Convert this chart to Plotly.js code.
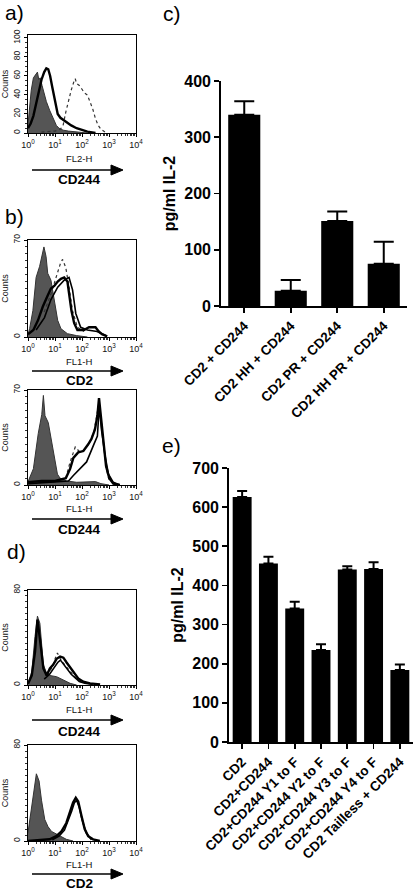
<!DOCTYPE html>
<html><head><meta charset="utf-8">
<script src="https://cdn.plot.ly/plotly-3.0.1.min.js"></script>
<style>html,body{margin:0;padding:0;background:#fff}#chart{width:416px;height:891px}</style>
</head><body><div id="chart"></div>
<script>
// ---------- DATA (x values in decades: 0 = 10^0 ... 4 = 10^4) ----------
// panel a (CD244, FL2-H)
const aGrayX  = [0, 0.05, 0.12, 0.2, 0.28, 0.35, 0.4, 0.45, 0.52, 0.6, 0.68, 0.8, 0.93, 1.05, 1.15, 1.3, 1.5, 1.8, 2.2];
const aGrayY  = [9, 25, 45, 58, 62, 64, 56, 58, 50, 42, 33, 24, 15, 8, 5, 3, 2, 1, 0];
const aBlackX = [0, 0.1, 0.2, 0.3, 0.4, 0.5, 0.6, 0.68, 0.75, 0.82, 0.9, 1.0, 1.1, 1.2, 1.3, 1.45, 1.6, 1.8, 2.0, 2.2, 2.5];
const aBlackY = [5, 10, 18, 30, 45, 56, 64, 68, 67, 60, 48, 32, 20, 16, 14, 11, 8, 5, 3, 1.5, 0];
const aDotX   = [0.5, 0.8, 1.0, 1.2, 1.3, 1.4, 1.5, 1.6, 1.7, 1.75, 1.8, 1.9, 2.0, 2.1, 2.2, 2.3, 2.4, 2.5, 2.6, 2.7, 2.8, 2.9];
const aDotY   = [1, 2, 2, 4, 8, 22, 35, 45, 54, 57, 52, 50, 46, 42, 40, 33, 25, 15, 8, 4, 2, 0];
// panel b top (CD2, FL1-H)
const bGrayX   = [0, 0.06, 0.18, 0.3, 0.43, 0.55, 0.59, 0.67, 0.73, 0.85, 0.98, 1.1, 1.22, 1.46, 1.8, 2.2];
const bGrayY   = [2, 6, 19, 43, 51, 60, 65, 58, 46, 41, 27, 12, 6, 2.4, 1, 0];
const bBlack1X = [0, 0.2, 0.37, 0.55, 0.73, 0.85, 0.98, 1.1, 1.22, 1.34, 1.46, 1.52, 1.61, 1.71, 1.83, 2.07, 2.26, 2.5, 2.62, 2.74, 2.93];
const bBlack1Y = [2, 5, 12, 22, 30, 35, 37, 40, 42, 43, 40, 31, 19, 10, 5, 5, 7, 7, 4, 2, 0.5];
const bBlack2X = [0.3, 0.61, 0.85, 1.1, 1.34, 1.52, 1.65, 1.77, 1.95, 2.2, 2.56, 2.93];
const bBlack2Y = [5, 14, 27, 36, 41, 43, 34, 17, 7, 5, 4, 0.5];
const bDotX    = [0.6, 0.85, 1.04, 1.2, 1.28, 1.4, 1.52, 1.65, 1.83, 2.07];
const bDotY    = [18, 31, 43, 53, 56, 50, 36, 19, 7, 4];
// panel b bottom (CD244, FL1-H)
const b2GrayX   = [0, 0.2, 0.38, 0.51, 0.57, 0.63, 0.75, 0.88, 1.0, 1.09, 1.19, 1.43, 1.8, 2.2, 2.5, 2.7, 3.0];
const b2GrayY   = [2.4, 12, 38, 52, 66, 51, 46, 31, 17, 8, 5, 3, 2, 2, 2.5, 1, 0];
const b2Black1X = [0, 0.5, 1.0, 1.4, 1.56, 1.68, 1.86, 2.05, 2.23, 2.35, 2.48, 2.57, 2.63, 2.69, 2.79, 2.89, 3.01, 3.16, 3.4];
const b2Black1Y = [2, 3, 3, 5, 12, 20, 24, 25, 30, 34, 41, 51, 64, 53, 34, 14, 5, 1, 0];
const b2Black2X = [0, 1.0, 1.5, 1.68, 1.93, 2.17, 2.42, 2.57, 2.64, 2.72, 2.85, 2.98, 3.16, 3.4];
const b2Black2Y = [1, 2, 3, 7, 12, 17, 29, 36, 58, 41, 22, 8, 2, 0];
const b2DotX    = [1.4, 1.56, 1.75, 1.93, 2.1, 2.3, 2.45, 2.55, 2.62, 2.7, 2.8, 2.9, 3.0];
const b2DotY    = [5, 17, 28, 24, 26, 32, 40, 52, 60, 50, 30, 12, 4];
// panel d top (CD244, FL1-H)
const dGrayX   = [0, 0.14, 0.26, 0.35, 0.38, 0.44, 0.51, 0.57, 0.69, 0.81, 1.06, 1.31, 1.56, 1.8];
const dGrayY   = [1.4, 11, 41, 58, 56, 52, 33, 17, 10, 8, 7, 4, 1.4, 0];
const dBlack1X = [0, 0.14, 0.26, 0.35, 0.44, 0.57, 0.69, 0.81, 0.93, 1.06, 1.19, 1.31, 1.43, 1.56, 1.68, 1.86, 2.05, 2.3, 2.67];
const dBlack1Y = [1, 8, 28, 55, 39, 14, 8, 14, 17, 22, 24, 23, 19, 15, 11, 5.5, 2.8, 1.4, 0.5];
const dBlack2X = [0.6, 0.8, 0.95, 1.1, 1.2, 1.3, 1.45, 1.6, 1.75, 1.9, 2.1, 2.4];
const dBlack2Y = [5, 9, 14, 19, 21, 18, 14, 9, 6, 3, 1.5, 0.5];
const dDotX    = [0.7, 0.9, 1.0, 1.09, 1.15, 1.25, 1.4, 1.6, 1.8, 2.0];
const dDotY    = [8, 15, 22, 27, 24, 20, 16, 10, 5, 2];
// panel d bottom (CD2, FL1-H)
const d2GrayX   = [0, 0.12, 0.25, 0.31, 0.41, 0.5, 0.62, 0.74, 0.87, 1.05, 1.24, 1.42, 1.67];
const d2GrayY   = [7, 26, 45, 56, 50, 34, 18, 12, 8, 6, 4, 1.4, 0];
const d2Black1X = [0, 0.8, 1.05, 1.24, 1.42, 1.55, 1.67, 1.77, 1.86, 1.98, 2.1, 2.23, 2.41, 2.66];
const d2Black1Y = [0, 1.4, 4, 8, 15, 23, 32, 36, 33, 21, 10, 4, 1.4, 0];
const d2Black2X = [0.9, 1.15, 1.35, 1.5, 1.62, 1.72, 1.8, 1.9, 2.0, 2.15, 2.35];
const d2Black2Y = [1, 4, 9, 17, 25, 32, 34, 28, 18, 7, 1];
// panel c
const cCats = ['CD2 + CD244', 'CD2 HH + CD244', 'CD2 PR + CD244', 'CD2 HH PR + CD244'];
const cVals = [340, 27, 151, 75];
const cErr  = [24, 19, 17, 39];
// panel e
const eCats = ['CD2', 'CD2+CD244', 'CD2+CD244 Y1 to F', 'CD2+CD244 Y2 to F', 'CD2+CD244 Y3 to F', 'CD2+CD244 Y4 to F', 'CD2 Tailless + CD244'];
const eVals = [626, 456, 341, 235, 441, 442, 184];
const eErr  = [15, 17, 17, 15, 8, 17, 14];
// tick labels
const histTickVals = [1, 10, 100, 1000, 10000];
const histTickText = ['10<sup>0</sup>', '10<sup>1</sup>', '10<sup>2</sup>', '10<sup>3</sup>', '10<sup>4</sup>'];

// ---------- BUILD ----------
const W = 416, H = 891;
const px = v => v / W, py = v => 1 - v / H;
const dec = arr => arr.map(v => Math.pow(10, v));
const NARROW = '"Liberation Sans Narrow", "Arial Narrow", Arial, "Liberation Sans", sans-serif';
const ARIAL = 'Arial, "Liberation Sans", sans-serif';

const traces = [];
function gray(xs, ys, k) {
  traces.push({type: 'scatter', mode: 'lines', x: dec(xs), y: ys, xaxis: 'x' + k, yaxis: 'y' + k,
    fill: 'tozeroy', fillcolor: '#555555', line: {color: '#333333', width: 1}, hoverinfo: 'skip'});
}
function line(xs, ys, k, w, dash, col) {
  traces.push({type: 'scatter', mode: 'lines', x: dec(xs), y: ys, xaxis: 'x' + k, yaxis: 'y' + k,
    line: {color: col || '#000', width: w, dash: dash || 'solid'}, hoverinfo: 'skip'});
}
gray(aGrayX, aGrayY, 1); line(aDotX, aDotY, 1, 1.2, 'dot', '#333'); line(aBlackX, aBlackY, 1, 2.4);
gray(bGrayX, bGrayY, 2); line(bDotX, bDotY, 2, 1.2, 'dot', '#333'); line(bBlack2X, bBlack2Y, 2, 1.6); line(bBlack1X, bBlack1Y, 2, 2.4);
gray(b2GrayX, b2GrayY, 3); line(b2DotX, b2DotY, 3, 1.2, 'dot', '#333'); line(b2Black2X, b2Black2Y, 3, 1.6); line(b2Black1X, b2Black1Y, 3, 2.4);
gray(dGrayX, dGrayY, 4); line(dDotX, dDotY, 4, 1.2, 'dot', '#333'); line(dBlack2X, dBlack2Y, 4, 1.6); line(dBlack1X, dBlack1Y, 4, 2.4);
gray(d2GrayX, d2GrayY, 5); line(d2Black2X, d2Black2Y, 5, 1.6); line(d2Black1X, d2Black1Y, 5, 2.4);
traces.push({type: 'bar', x: cCats, y: cVals, xaxis: 'x6', yaxis: 'y6', width: 0.69,
  marker: {color: '#000', line: {width: 0}}, hoverinfo: 'skip',
  error_y: {type: 'data', symmetric: false, array: cErr, arrayminus: cErr.map(() => 0), color: '#000', thickness: 2, width: 10}});
traces.push({type: 'bar', x: eCats, y: eVals, xaxis: 'x7', yaxis: 'y7', width: 0.72,
  marker: {color: '#000', line: {width: 0}}, hoverinfo: 'skip',
  error_y: {type: 'data', symmetric: false, array: eErr, arrayminus: eErr.map(() => 0), color: '#000', thickness: 2, width: 5}});

const minorVals = [];
for (let d = 0; d < 4; d++) for (let k = 2; k <= 9; k++) minorVals.push(k * Math.pow(10, d));

const layout = {
  width: W, height: H, margin: {l: 0, r: 0, t: 0, b: 0},
  paper_bgcolor: '#fff', plot_bgcolor: '#fff', showlegend: false,
  shapes: [], annotations: []
};

const hist = [
  {k: 1, top: 35, bot: 133, yr: [0, 103], yt: [0, 20, 40, 60, 80, 100], flY: 159, fl: 'FL2-H', arY: 170, lab: 'CD244', labY: 180},
  {k: 2, top: 240, bot: 337, yr: [0, 70], yt: [0, 70], fl: 'FL1-H', flY: 362, arY: 371, lab: 'CD2', labY: 381},
  {k: 3, top: 390, bot: 485, yr: [0, 70], yt: [0, 70], fl: 'FL1-H', flY: 509, arY: 519, lab: 'CD244', labY: 529},
  {k: 4, top: 590, bot: 685, yr: [0, 80], yt: [0, 80], fl: 'FL1-H', flY: 709, arY: 720, lab: 'CD244', labY: 731},
  {k: 5, top: 745, bot: 841, yr: [0, 80], yt: [0, 80], fl: 'FL1-H', flY: 864, arY: 874, lab: 'CD2', labY: 883}
];
hist.forEach(h => {
  const xa = h.k === 1 ? 'xaxis' : 'xaxis' + h.k;
  const ya = h.k === 1 ? 'yaxis' : 'yaxis' + h.k;
  layout[xa] = {type: 'log', range: [0, 4], domain: [px(28), px(136)], anchor: 'y' + h.k,
    showline: true, linecolor: '#000', linewidth: 1.3, mirror: true, showgrid: false, zeroline: false,
    ticks: 'outside', ticklen: 3, tickwidth: 1, tickcolor: '#000',
    tickmode: 'array', tickvals: histTickVals, ticktext: histTickText,
    tickfont: {family: NARROW, size: 9, color: '#111'},
    minor: {tickmode: 'array', tickvals: minorVals, ticks: 'outside', ticklen: 2, tickwidth: 0.8, tickcolor: '#000', showgrid: false},
    fixedrange: true};
  layout[ya] = {range: h.yr, domain: [py(h.bot), py(h.top)], anchor: 'x' + h.k,
    showline: true, linecolor: '#000', linewidth: 1.3, mirror: true, showgrid: false, zeroline: false,
    ticks: 'outside', ticklen: 3, tickwidth: 1, tickcolor: '#000',
    tickmode: 'array', tickvals: h.yt, tickangle: -90,
    tickfont: {family: NARROW, size: 8.5, color: '#111'},
    minor: {dtick: 5, ticks: 'outside', ticklen: 2, tickwidth: 0.8, tickcolor: '#000', showgrid: false},
    title: {text: 'Counts', font: {family: NARROW, size: 9, color: '#111'}, standoff: 2},
    fixedrange: true};
  layout.annotations.push({xref: 'paper', yref: 'paper', x: px(79), y: py(h.flY), text: h.fl, showarrow: false,
    font: {family: NARROW, size: 9.5, color: '#111'}, xanchor: 'center', yanchor: 'middle'});
  layout.annotations.push({xref: 'paper', yref: 'paper', x: px(79), y: py(h.labY), text: h.lab, showarrow: false,
    font: {family: ARIAL, size: 13.5, color: '#000', weight: 700}, xanchor: 'center', yanchor: 'middle'});
  layout.shapes.push({type: 'line', xref: 'paper', yref: 'paper', x0: px(32), x1: px(114), y0: py(h.arY), y1: py(h.arY),
    line: {color: '#000', width: 1.6}});
  layout.shapes.push({type: 'path', xref: 'paper', yref: 'paper',
    path: `M ${px(111)} ${py(h.arY - 5)} L ${px(123)} ${py(h.arY)} L ${px(111)} ${py(h.arY + 5)} Z`,
    fillcolor: '#000', line: {color: '#000', width: 1}});
});

const barY = (dom, rng, dt) => ({range: rng, dtick: dt, domain: dom,
  showline: true, linecolor: '#000', linewidth: 1.8, showgrid: false, zeroline: false,
  ticks: 'outside', ticklen: 5, tickwidth: 1.8, tickcolor: '#000',
  tickfont: {family: ARIAL, size: 16, color: '#000', weight: 700},
  title: {text: 'pg/ml IL-2', font: {family: ARIAL, size: 16, color: '#000', weight: 700}, standoff: 5},
  fixedrange: true});
const barX = (dom) => ({type: 'category', domain: dom,
  showline: true, linecolor: '#000', linewidth: 1.8, showgrid: false, zeroline: false,
  ticks: 'outside', ticklen: 5, tickwidth: 1.8, tickcolor: '#000', tickangle: -45,
  tickfont: {family: ARIAL, size: 13.5, color: '#000', weight: 700}, fixedrange: true});
layout.xaxis6 = Object.assign(barX([px(221), px(407)]), {anchor: 'y6'});
layout.yaxis6 = Object.assign(barY([py(306), py(81)], [0, 400], 100), {anchor: 'x6'});
layout.xaxis7 = Object.assign(barX([px(229), px(413)]), {anchor: 'y7'});
layout.yaxis7 = Object.assign(barY([py(742), py(468)], [0, 700], 100), {anchor: 'x7'});

[['a)', 15, 12], ['b)', 15, 216], ['c)', 172, 13], ['d)', 16, 551], ['e)', 171, 445]].forEach(p => {
  layout.annotations.push({xref: 'paper', yref: 'paper', x: px(p[1]), y: py(p[2]), text: p[0], showarrow: false,
    font: {family: ARIAL, size: 21, color: '#000'}, xanchor: 'center', yanchor: 'middle'});
});

Plotly.newPlot('chart', traces, layout, {staticPlot: true, displayModeBar: false});
</script></body></html>
